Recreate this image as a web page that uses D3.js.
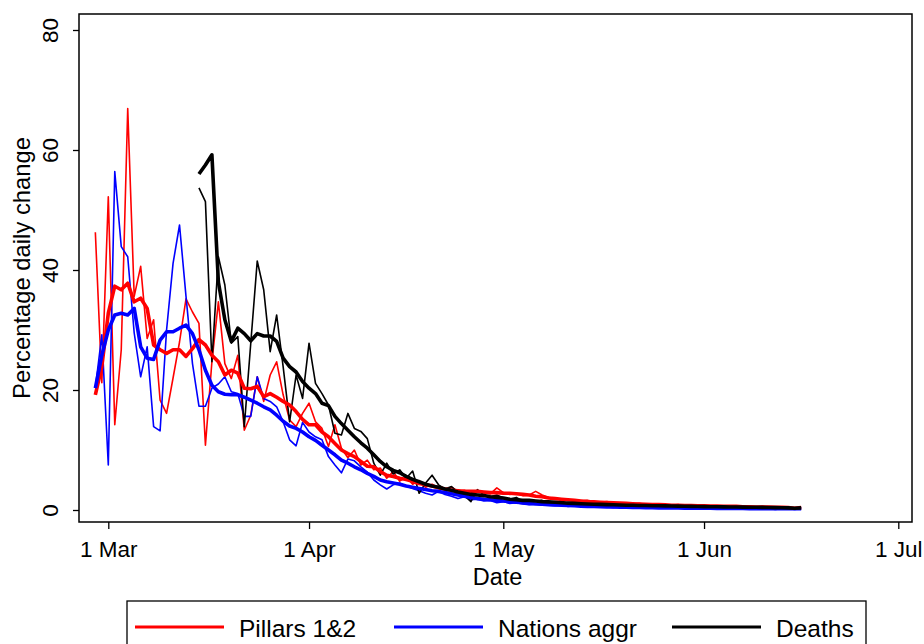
<!DOCTYPE html>
<html><head><meta charset="utf-8">
<script src="https://cdn.jsdelivr.net/npm/d3@7"></script>
<style>
html,body{margin:0;padding:0;background:#fff;}
text{font-family:"Liberation Sans",Arial,Helvetica,sans-serif;}
</style></head>
<body><svg id="chart" width="924" height="644"></svg>
<script>
// Day offsets relative to 1 Mar 2020
const startPillars = -2; // 28 Feb
const startDeaths = 14;  // 15 Mar
const pillarsDaily = [46.3,21.2,52.2,14.2,26.7,66.9,35.6,40.6,28.6,31.7,18.3,16.1,22,28,35.2,33,31.1,10.8,24.7,34.7,24.4,21.9,25.8,13.3,15.8,22.2,18.1,22.5,24.7,19.2,15,13.9,16.1,17.8,14.7,13.6,10.6,14.2,10.3,8.7,10,7.5,8.3,6.7,7,5.3,6.4,4.8,5.5,4.3,4.9,3.8,4.3,3.6,3.4,3.8,3.1,3.3,2.8,3.1,2.9,2.7,3.7,2.9,2.6,2.8,2.4,2.5,3.1,2.5,2.1,1.9,1.8,1.7,1.7,1.5,1.6,1.4,1.3,1.4,1.2,1.2,1.1,1.0,1.1,0.9,0.9,1.0,0.8,0.8,0.9,0.7,0.7,0.8,0.6,0.7,0.6,0.6,0.7,0.5,0.6,0.5,0.5,0.6,0.4,0.5,0.4,0.4,0.2,0.5];
const pillarsAvg = [19.2,23.9,32.8,37.3,36.7,37.8,34.7,35.3,33.6,27.5,26.7,26.1,26.7,26.7,25.6,26.9,28.4,27.5,25.8,24.7,22.5,23.3,22.8,20.3,20.2,20.6,18.9,19.4,18.8,18.1,17.5,16.4,15.1,14.2,14.2,13,12.2,11.1,10,9.4,8.9,8.1,7.3,7.2,6.4,5.8,5.6,5.3,5.1,4.8,4.4,4.2,4,3.7,3.5,3.3,3.2,3.1,3.1,3.1,3.0,2.9,2.9,2.8,2.8,2.7,2.6,2.5,2.3,2.2,2.0,1.9,1.8,1.7,1.6,1.5,1.4,1.35,1.3,1.25,1.2,1.15,1.1,1.05,1.0,0.95,0.9,0.9,0.85,0.8,0.8,0.75,0.75,0.7,0.7,0.65,0.65,0.6,0.6,0.6,0.55,0.55,0.5,0.5,0.5,0.45,0.45,0.4,0.3,0.4];
const nationsDaily = [20.3,29.2,7.5,56.4,43.9,42.2,29.5,22.2,27.2,13.9,13.2,30,41.1,47.5,35.6,24.4,17.3,17.3,20.3,21,22.2,19.7,19.4,15.6,15.6,22.2,18.6,18.1,17.2,14.7,11.7,10.7,14.6,13,12.2,11.7,8.9,7.5,6.2,8.5,8.2,7.2,6.3,5,4.2,3.5,4.2,4.5,4,3.6,3.2,2.8,2.5,3.1,2.6,2.3,1.9,2.2,1.7,1.8,1.5,1.6,1.2,1.4,1.1,1.2,1.0,0.9,1.0,0.8,0.8,0.7,0.8,0.6,0.7,0.6,0.5,0.6,0.5,0.5,0.4,0.5,0.4,0.4,0.4,0.3,0.4,0.3,0.3,0.4,0.3,0.3,0.2,0.3,0.3,0.2,0.3,0.2,0.2,0.3,0.2,0.2,0.2,0.2,0.2,0.1,0.2,0.2,0.1,0.2];
const nationsAvg = [20.3,25.8,30,32.5,32.8,32.5,33.6,27.2,25.3,25.1,28.3,29.7,29.7,30.3,30.8,29.4,26.7,23.3,20.8,19.7,19.3,19.2,19.2,18.8,18.3,17.8,17.2,16.7,15.8,14.8,14,13.6,13,12.2,11.6,10.8,10,9.2,8.3,7.8,7.2,6.7,6.1,5.6,5,4.7,4.5,4.3,4.0,3.8,3.6,3.4,3.2,3.1,2.9,2.7,2.5,2.3,2.1,1.9,1.8,1.7,1.6,1.5,1.4,1.3,1.2,1.1,1.0,0.95,0.9,0.85,0.8,0.75,0.7,0.65,0.6,0.6,0.55,0.5,0.5,0.48,0.46,0.44,0.42,0.4,0.38,0.36,0.35,0.34,0.33,0.32,0.31,0.3,0.29,0.28,0.27,0.26,0.25,0.25,0.24,0.23,0.23,0.22,0.22,0.21,0.21,0.2,0.2,0.2];
const deathsDaily = [53.7,51.4,24.7,42.2,37.5,27.8,28.9,13.9,27.8,41.5,36.7,26.4,32.5,23.9,14.7,22.5,18.6,27.8,21.1,19.4,17.5,12.8,12.5,16.1,13.6,13.1,11.9,7.8,5.8,7.8,6,6.7,5.3,6.5,2.8,4.5,5.8,4.2,3.5,3.9,3,2.4,1.4,3.4,2.5,2.2,2.5,2.0,1.8,2.1,1.5,1.7,1.4,1.6,1.3,1.2,1.5,1.1,1.2,1.0,1.1,0.9,1.2,0.9,0.8,1.0,0.8,0.7,0.9,0.7,0.8,0.6,0.7,0.6,0.8,0.6,0.5,0.7,0.5,0.6,0.5,0.5,0.6,0.4,0.5,0.4,0.5,0.4,0.4,0.3,0.3,0.4,0.2,0.4];
const deathsAvg = [56,57.5,59.2,38,31.7,28.1,30.3,29.4,28.2,29.4,29,29,28.1,25.3,23.9,23,21.4,20.3,19.4,17.8,17.4,15.6,14.4,13.3,12.2,11.2,10.3,9.2,8.1,7.2,6.6,6.2,5.6,5.1,4.7,4.3,4.0,3.8,3.5,3.3,3.0,2.8,2.6,2.5,2.4,2.2,2.1,2.0,1.8,1.7,1.6,1.6,1.5,1.4,1.35,1.3,1.2,1.15,1.1,1.05,1.0,0.97,0.94,0.9,0.87,0.84,0.8,0.78,0.76,0.74,0.72,0.7,0.68,0.66,0.64,0.62,0.6,0.58,0.56,0.55,0.54,0.52,0.5,0.49,0.48,0.46,0.45,0.44,0.42,0.4,0.38,0.35,0.3,0.35];
const yTicks = [0,20,40,60,80];
const xTickDates = ["2020-03-01","2020-04-01","2020-05-01","2020-06-01","2020-07-01"];
const seriesNames = ["Pillars 1&2","Nations aggr","Deaths"];
const seriesColors = ["#ff0000","#0000ff","#000000"];

const svg = d3.select("#chart");
const dayDate = d => new Date(2020,2,1+d);
const toPts = (arr,start) => arr.map((v,i)=>({date:dayDate(start+i), v}));

const frame = {l:79, r:912, t:14, b:522};
const x = d3.scaleTime().domain([new Date(2020,2,1), new Date(2020,6,1)]).range([108.3, 898.3]);
const y = d3.scaleLinear().domain([0,80]).range([510,30]);

svg.append("rect").attr("width",924).attr("height",644).attr("fill","#fff");

const line = d3.line().x(d=>x(d.date)).y(d=>y(d.v));
const series = [
  {daily: toPts(pillarsDaily,startPillars), avg: toPts(pillarsAvg,startPillars), color: seriesColors[0]},
  {daily: toPts(nationsDaily,startPillars), avg: toPts(nationsAvg,startPillars), color: seriesColors[1]},
  {daily: toPts(deathsDaily,startDeaths), avg: toPts(deathsAvg,startDeaths), color: seriesColors[2]}
];
const g = svg.append("g");
series.forEach(s=>{
  g.append("path").datum(s.daily).attr("d",line).attr("fill","none").attr("stroke",s.color).attr("stroke-width",1.6).attr("stroke-linejoin","round");
});
series.forEach(s=>{
  g.append("path").datum(s.avg).attr("d",line).attr("fill","none").attr("stroke",s.color).attr("stroke-width",3.6).attr("stroke-linejoin","round");
});

// frame
svg.append("rect").attr("x",frame.l).attr("y",frame.t).attr("width",frame.r-frame.l).attr("height",frame.b-frame.t)
  .attr("fill","none").attr("stroke","#000").attr("stroke-width",1.5);

// y axis
const yAxis = d3.axisLeft(y).tickValues(yTicks).tickSize(6).tickPadding(0).tickFormat(d3.format("d"));
const ya = svg.append("g").attr("transform",`translate(${frame.l},0)`).call(yAxis);
ya.select(".domain").remove();
ya.selectAll(".tick line").attr("stroke","#000").attr("stroke-width",1.3);
ya.selectAll(".tick text").attr("transform","rotate(-90)").attr("x",0).attr("y",-21).attr("dy",0)
  .attr("text-anchor","middle").attr("font-size",22.5).attr("fill","#000").attr("font-family","Liberation Sans, Arial, sans-serif");

// x axis
const xAxis = d3.axisBottom(x).tickValues(xTickDates.map(s=>d3.timeParse("%Y-%m-%d")(s))).tickSize(7).tickPadding(0).tickFormat(d3.timeFormat("%-d %b"));
const xa = svg.append("g").attr("transform",`translate(0,${frame.b})`).call(xAxis);
xa.select(".domain").remove();
xa.selectAll(".tick line").attr("stroke","#000").attr("stroke-width",1.3);
xa.selectAll(".tick text").attr("y",35).attr("dy",0).attr("font-size",22.5).attr("fill","#000").attr("font-family","Liberation Sans, Arial, sans-serif");

// axis titles
svg.append("text").attr("transform",`translate(30,${(frame.t+frame.b)/2}) rotate(-90)`).attr("text-anchor","middle")
  .attr("font-size",23.8).text("Percentage daily change");
svg.append("text").attr("x",(frame.l+frame.r)/2+2).attr("y",585).attr("text-anchor","middle").attr("font-size",23.5).text("Date");

// legend
const leg = svg.append("g");
leg.append("rect").attr("x",127).attr("y",601).attr("width",739).attr("height",60).attr("fill","#fff").attr("stroke","#000").attr("stroke-width",1.3);
const legX = [135, 394, 672];
seriesNames.forEach((n,i)=>{
  leg.append("line").attr("x1",legX[i]).attr("x2",legX[i]+89).attr("y1",627).attr("y2",627).attr("stroke",seriesColors[i]).attr("stroke-width",3);
  leg.append("text").attr("x",legX[i]+104).attr("y",637).attr("font-size",24.5).text(n);
});
</script></body></html>
